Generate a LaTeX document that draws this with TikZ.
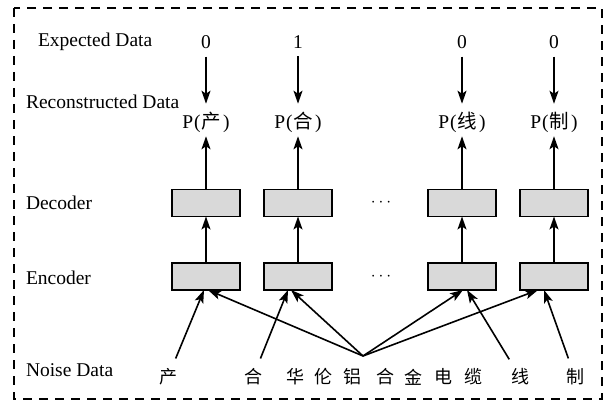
\documentclass[tikz,border=0pt]{standalone}
\usepackage{fontspec}
\setmainfont{Liberation Serif}
\newfontfamily\cjk{Noto Sans CJK SC}
\usetikzlibrary{arrows.meta}
\definecolor{boxgray}{HTML}{D9D9D9}
\begin{document}
\begin{tikzpicture}[x=1pt,y=-1pt,
  every node/.style={inner sep=0pt, outer sep=0pt},
  lab/.style={anchor=west, font=\fontsize{19.5}{22}\selectfont},
  num/.style={font=\fontsize{19.5}{22}\selectfont},
  prob/.style={font=\fontsize{19.5}{22}\selectfont},
  cell/.style={draw, fill=boxgray, minimum width=68pt, minimum height=27pt, line width=1.6pt},
  ch/.style={font=\fontsize{18}{20}\cjk\selectfont},
  dots/.style={font=\fontsize{16}{18}\selectfont},
  arr/.style={-{Stealth[length=13pt,width=9pt,inset=3pt]}, line width=1.6pt},
]
\useasboundingbox (0,0) rectangle (611,404);
\draw[line width=1.5pt, dash pattern=on 9pt off 7pt] (14,8) rectangle (602,399);

% left labels
\node[lab] (lexp) at (38,42) {Expected Data};
\node[lab] (lrec) at (26,102) {Reconstructed Data};
\node[lab] (ldec) at (26,203) {Decoder};
\node[lab] (lenc) at (26,278) {Encoder};
\node[lab] (lnoi) at (26,370) {Noise Data};

% expected values
\node[num] (n1) at (206,42) {0};
\node[num] (n2) at (298,42) {1};
\node[num] (n3) at (462,42) {0};
\node[num] (n4) at (554,42) {0};

% reconstructed
\node[prob] (p1) at (206,122) {P\kern1pt(\kern1pt{\cjk 产}\kern2pt)};
\node[prob] (p2) at (298,122) {P\kern1pt(\kern1pt{\cjk 合}\kern2pt)};
\node[prob] (p3) at (462,122) {P\kern1pt(\kern1pt{\cjk 线}\kern2pt)};
\node[prob] (p4) at (554,122) {P\kern1pt(\kern1pt{\cjk 制}\kern2pt)};

% decoder / encoder cells
\foreach \i/\x in {1/206,2/298,3/462,4/554}{
  \node[cell] (d\i) at (\x,203) {};
  \node[cell] (e\i) at (\x,276.5) {};
}
\node[dots] (dd) at (381,203) {$\cdots$};
\node[dots] (de) at (381,277) {$\cdots$};

% noise characters
\node[ch] (c1) at (168,377) {产};
\node[ch] (c2) at (253,377) {合};
\node[ch] (c3) at (295,377) {华};
\node[ch] (c4) at (323,377) {伦};
\node[ch] (c5) at (352,377) {铝};
\node[ch] (c6) at (385,377) {合};
\node[ch] (c7) at (413,377) {金};
\node[ch] (c8) at (443,377) {电};
\node[ch] (c9) at (473,377) {缆};
\node[ch] (c10) at (520,377) {线};
\node[ch] (c11) at (575,377) {制};
\coordinate (conv) at (363,356);

% arrows
\foreach \i in {1,2,3,4}{
  \draw[arr, shorten <=8pt, shorten >=8pt] (n\i) -- (p\i);
  \draw[arr, shorten >=4pt] (d\i) -- (p\i);
  \draw[arr] (e\i) -- (d\i);
}
\draw[arr, shorten <=11pt] (c1) -- ([xshift=-2pt]e1.south);
\draw[arr] (conv) -- ([xshift=2pt]e1.south);
\draw[arr, shorten <=11pt] (c2) -- ([xshift=-10pt]e2.south);
\draw[arr] (conv) -- ([xshift=-7pt]e2.south);
\draw[arr] (conv) -- ([xshift=1pt]e3.south);
\draw[arr, shorten <=11pt] (c10) -- ([xshift=5pt]e3.south);
\draw[arr] (conv) -- ([xshift=-16pt]e4.south);
\draw[arr, shorten <=11pt] (c11) -- ([xshift=-10pt]e4.south);
\end{tikzpicture}
\end{document}
